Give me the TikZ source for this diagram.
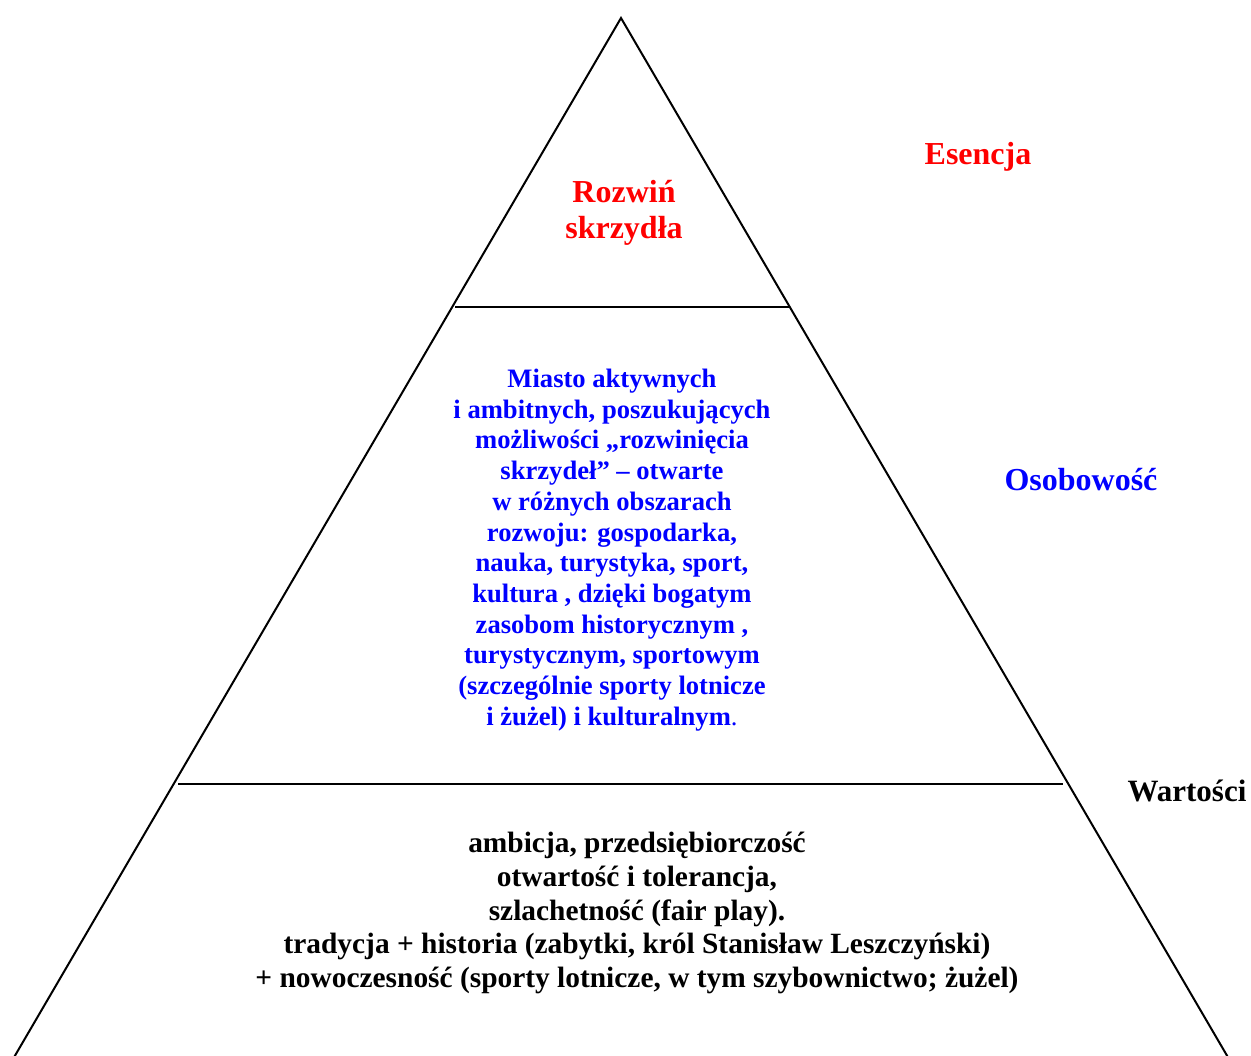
\documentclass[tikz,border=0pt]{standalone}
\usepackage{fontspec}
\setmainfont{Liberation Serif}
\definecolor{pred}{RGB}{255,0,0}
\definecolor{pblue}{RGB}{0,0,255}
\tikzset{
  edge/.style={line width=2bp, black},
  txt/.style={inner sep=0pt, align=center, font=\bfseries},
}
\begin{document}
\begin{tikzpicture}[x=1bp,y=-1bp]
\useasboundingbox (0,0) rectangle (1251,1056);
\clip (0,0) rectangle (1251,1056);
\coordinate (apex) at (621,18);
\coordinate (bl) at (6.6,1070);
\coordinate (br) at (1235.4,1070);
\coordinate (l1a) at (455,307);
\coordinate (l1b) at (789,307);
\coordinate (l2a) at (178,784);
\coordinate (l2b) at (1063,784);
\draw[edge, line join=miter] (bl) -- (apex) -- (br);
\draw[edge] (l1a) -- (l1b);
\draw[edge] (l2a) -- (l2b);

\node[txt, text=pred, font=\fontsize{32bp}{36.5bp}\selectfont\bfseries] (top) at (624,213)
  {Rozwiń\\skrzydła};

\node[txt, text=pblue, font=\fontsize{26.6bp}{30.7bp}\selectfont\bfseries] (mid) at (612,550)
  {Miasto aktywnych\\
   i ambitnych, poszukujących\\
   możliwości „rozwinięcia\\
   skrzydeł” – otwarte\\
   w różnych obszarach\\
   rozwoju: gospodarka,\\
   nauka, turystyka, sport,\\
   kultura , dzięki bogatym\\
   zasobom historycznym ,\\
   turystycznym, sportowym\\
   (szczególnie sporty lotnicze\\
   i żużel) i kulturalnym{\mdseries .}};

\node[txt, text=black, font=\fontsize{29.4bp}{33.8bp}\selectfont\bfseries] (bot) at (637,913)
  {ambicja, przedsiębiorczość\\
   otwartość i tolerancja,\\
   szlachetność (fair play).\\
   tradycja + historia (zabytki, król Stanisław Leszczyński)\\
   + nowoczesność (sporty lotnicze, w tym szybownictwo; żużel)};

\node[txt, text=pred, font=\fontsize{32bp}{36bp}\selectfont\bfseries] (esencja) at (978,157) {Esencja};
\node[txt, text=pblue, font=\fontsize{32bp}{36bp}\selectfont\bfseries] (osob) at (1081,480) {Osobowość};
\node[txt, text=black, font=\fontsize{31bp}{35bp}\selectfont\bfseries] (wart) at (1187,791) {Wartości};
\end{tikzpicture}
\end{document}
